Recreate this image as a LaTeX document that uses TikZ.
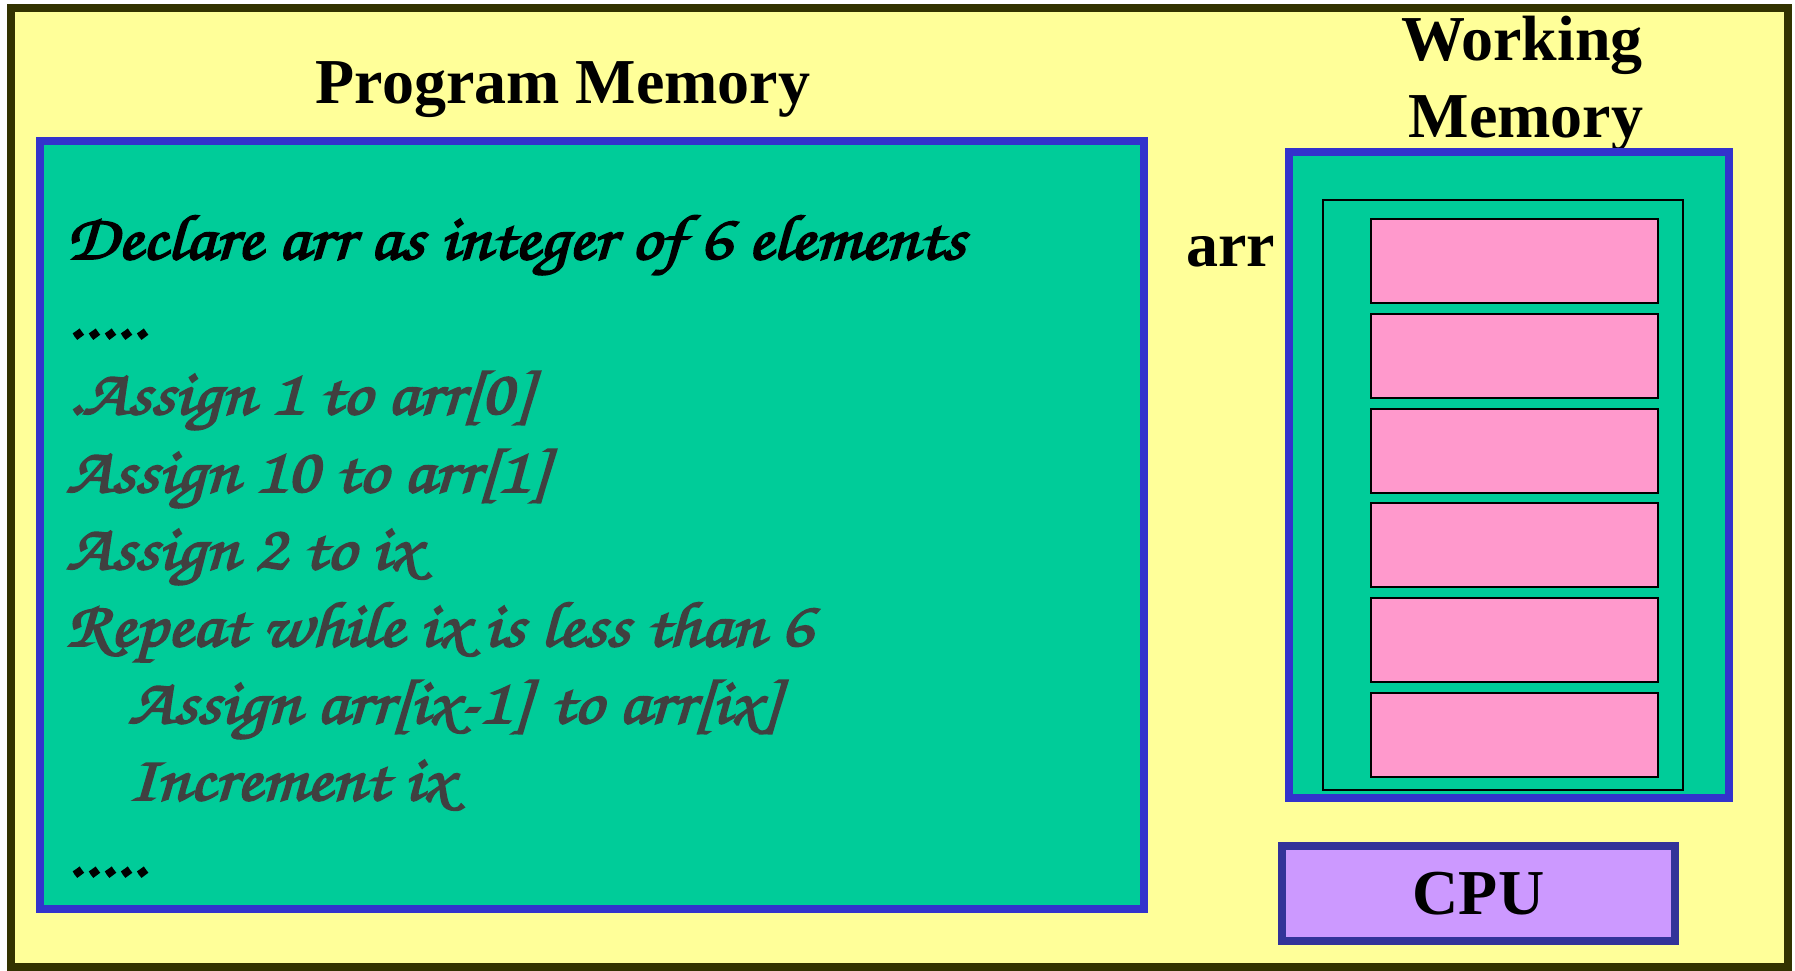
\documentclass[tikz,border=0pt]{standalone}
\usepackage{fontspec}
\setmainfont{Liberation Serif}
\newfontfamily\scr{texgyrechorus-mediumitalic}[Extension=.otf,FakeBold=3,FakeStretch=1.14]
\definecolor{bgyellow}{HTML}{FFFF99}
\definecolor{frameolive}{HTML}{333300}
\definecolor{boxblue}{HTML}{3333CC}
\definecolor{boxgreen}{HTML}{00CC99}
\definecolor{cellpink}{HTML}{FF99CC}
\definecolor{cpuviolet}{HTML}{CC99FF}
\definecolor{cpublue}{HTML}{333399}
\definecolor{codegray}{HTML}{404040}
\tikzset{
  outerframe/.style={draw=frameolive, fill=bgyellow, line width=8pt, inner sep=0pt, outer sep=0pt},
  membox/.style={draw=boxblue, fill=boxgreen, line width=8pt, inner sep=0pt},
  arrbox/.style={draw=black, line width=2pt, inner sep=0pt, minimum width=360pt, minimum height=590pt},
  cell/.style={draw=black, fill=cellpink, line width=2pt, inner sep=0pt, minimum width=287pt, minimum height=84pt},
  cpubox/.style={draw=cpublue, fill=cpuviolet, line width=8pt, inner sep=0pt},
  title/.style={font=\bfseries\fontsize{64}{76}\selectfont, inner sep=0pt, anchor=base},
  code/.style={font=\scr\fontsize{64}{76}\selectfont, inner sep=0pt, anchor=base west},
}
\begin{document}
\begin{tikzpicture}[x=1pt, y=-1pt]
\useasboundingbox (0,0) rectangle (1795,971);
\node[outerframe, minimum width=1777pt, minimum height=959pt] (frame) at (899.5,487.5) {};
\node[title] (pmtitle) at (563,103) {Program Memory};
\node[title] (wmtitle1) at (1522,61) {Working};
\node[title] (wmtitle2) at (1526,137) {Memory};
\node[membox, minimum width=1104pt, minimum height=768pt] (pm) at (592,525) {};
\node[membox, minimum width=440pt, minimum height=646pt] (wm) at (1509,475) {};
\node[arrbox] (arrframe) at (1503,495) {};
\foreach \i in {0,...,5} {
  \node[cell] (cell\i) at (1514.5,{261+94.8*\i}) {};
}
\node[title, anchor=base west] (arrlabel) at (1186,266) {arr};
\node[cpubox, minimum width=393pt, minimum height=95pt, font=\bfseries\fontsize{64}{76}\selectfont] (cpu) at (1478.5,893.5) {CPU};
\node[code, text=black] (l1) at (66,259) {Declare arr as integer of 6 elements};
\node[code, text=black] (l2) at (66,338) {.....};
\node[code, text=codegray] (l3) at (66,414) {.Assign 1 to arr[0]};
\node[code, text=codegray] (l4) at (66,492) {Assign 10 to arr[1]};
\node[code, text=codegray] (l5) at (66,569) {Assign 2 to ix};
\node[code, text=codegray] (l6) at (66,646) {Repeat while ix is less than 6};
\node[code, text=codegray] (l7) at (128,723) {Assign arr[ix-1] to arr[ix]};
\node[code, text=codegray] (l8) at (128,800) {Increment ix};
\node[code, text=black] (l9) at (66,876) {.....};
\end{tikzpicture}
\end{document}
